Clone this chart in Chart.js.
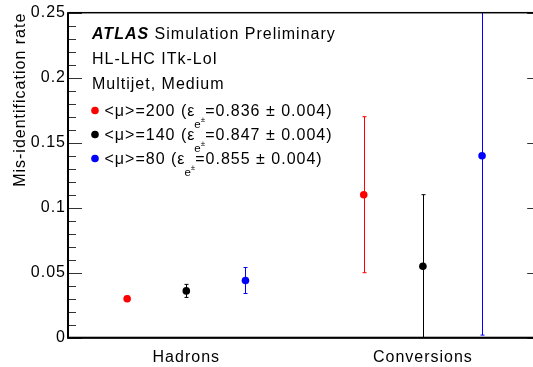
<!DOCTYPE html>
<html lang="en">
<head>
<meta charset="UTF-8">
<title>Mis-identification rate</title>
<script src="https://cdn.jsdelivr.net/npm/chart.js@4/dist/chart.umd.min.js"></script>
<style>
    html, body { margin: 0; padding: 0; overflow: hidden; background: #fff; }
    #wrap { width: 533px; height: 367px; overflow: hidden; }
</style>
</head>
<body>
<div id="wrap"><canvas id="chart" width="545" height="367"></canvas></div>
<script>
const categories = ["Hadrons", "Conversions"];
const pileup = ["200", "140", "80"];
const efficiency = ["0.836", "0.847", "0.855"];
const effError = "0.004";
const colors = ["#ff0000", "#000000", "#0000ff"];
const offsets = [-0.25, 0, 0.25];

// rate per category (Hadrons, Conversions) and its uncertainty
const rate200 = [0.030, 0.110];
const err200 = [0.002, 0.060];
const rate140 = [0.036, 0.055];
const err140 = [0.005, 0.055];
const rate80 = [0.044, 0.140];
const err80 = [0.010, 0.138];

const yTicks = [0, 0.05, 0.1, 0.15, 0.2, 0.25];
const FONT = '"Liberation Sans", Arial, Helvetica, sans-serif';

const series = [
    { values: rate200, errors: err200 },
    { values: rate140, errors: err140 },
    { values: rate80, errors: err80 }
];

const decorations = {
    id: "decorations",
    beforeDraw(chart) {
        // slightly wider text everywhere
        chart.ctx.letterSpacing = "1px";
    },
    beforeDatasetsDraw(chart) {
        // vertical error bars with small caps
        const { ctx, chartArea: a, scales: { x, y } } = chart;
        ctx.save();
        ctx.beginPath();
        ctx.rect(a.left, a.top, a.width, a.height);
        ctx.clip();
        ctx.lineWidth = 1;
        series.forEach((s, i) => {
            ctx.strokeStyle = colors[i];
            s.values.forEach((v, j) => {
                const px = Math.round(x.getPixelForValue(j + 0.5 + offsets[i])) + 0.5;
                const hi = y.getPixelForValue(v + s.errors[j]);
                const lo = y.getPixelForValue(Math.max(0, v - s.errors[j]));
                ctx.beginPath();
                ctx.moveTo(px, lo);
                ctx.lineTo(px, hi);
                ctx.moveTo(px - 2, hi);
                ctx.lineTo(px + 2, hi);
                ctx.moveTo(px - 2, lo);
                ctx.lineTo(px + 2, lo);
                ctx.stroke();
            });
        });
        ctx.restore();
    },
    afterDatasetsDraw(chart) {
        // frame and inward ticks on both vertical axes
        const { ctx, chartArea: a, scales: { y } } = chart;
        ctx.save();
        ctx.strokeStyle = "#333";
        ctx.lineWidth = 1;
        for (let k = 0; k <= 25; k++) {
            const py = Math.round(y.getPixelForValue(k * 0.01)) + 0.5;
            const len = k % 5 === 0 ? 14 : 8;
            ctx.beginPath();
            ctx.moveTo(a.left, py);
            ctx.lineTo(a.left + len, py);
            ctx.moveTo(a.right, py);
            ctx.lineTo(a.right - len, py);
            ctx.stroke();
        }
        ctx.strokeStyle = "#000";
        ctx.lineWidth = 1.5;
        ctx.strokeRect(a.left, a.top, a.width, a.height);
        // heavier left and bottom axis lines
        ctx.lineWidth = 2;
        ctx.beginPath();
        ctx.moveTo(a.left, a.top);
        ctx.lineTo(a.left, a.bottom);
        ctx.lineTo(a.right, a.bottom);
        ctx.stroke();
        ctx.restore();
    },
    afterDraw(chart) {
        const ctx = chart.ctx;
        const x0 = 92;
        ctx.save();
        ctx.fillStyle = "#000";
        ctx.textBaseline = "alphabetic";
        ctx.font = `italic bold 16px ${FONT}`;
        ctx.fillText("ATLAS", x0, 38.8);
        const w = ctx.measureText("ATLAS").width;
        ctx.font = `16px ${FONT}`;
        ctx.fillText(" Simulation Preliminary", x0 + w, 38.8);
        ctx.fillText("HL-LHC ITk-LoI", x0, 63.8);
        ctx.fillText("Multijet, Medium", x0, 88.8);

        const rows = [116.3, 140.3, 164.3];
        rows.forEach((yb, i) => {
            ctx.fillStyle = colors[i];
            ctx.beginPath();
            ctx.arc(95, yb - 5.8, 3.8, 0, Math.PI * 2);
            ctx.fill();
            ctx.fillStyle = "#000";
            let x = 104.5;
            ctx.font = `16px ${FONT}`;
            const head = `<μ>=${pileup[i]} (ε`;
            ctx.fillText(head, x, yb);
            x += ctx.measureText(head).width - 1;
            ctx.letterSpacing = "0px";
            ctx.font = `11.5px ${FONT}`;
            ctx.fillText("e", x, yb + 11.7);
            let sw = ctx.measureText("e").width;
            ctx.font = `8px ${FONT}`;
            ctx.fillText("±", x + sw, yb + 6);
            sw += ctx.measureText("±").width;
            x += sw;
            ctx.letterSpacing = "1px";
            ctx.font = `16px ${FONT}`;
            ctx.fillText(`=${efficiency[i]} ± ${effError})`, x, yb);
        });
        ctx.restore();
    }
};

new Chart("chart", {
    type: "scatter",
    data: {
        datasets: series.map((s, i) => ({
            data: s.values.map((v, j) => ({ x: j + 0.5 + offsets[i], y: v })),
            backgroundColor: colors[i],
            borderWidth: 0,
            pointRadius: 3.8,
            pointHoverRadius: 3.8
        }))
    },
    options: {
        responsive: false,
        animation: false,
        layout: { padding: { top: 12.7, right: 3.4, left: 0, bottom: 0 } },
        plugins: {
            legend: { display: false },
            tooltip: { enabled: false }
        },
        scales: {
            x: {
                type: "linear",
                min: 0,
                max: 2,
                afterBuildTicks: s => { s.ticks = categories.map((c, i) => ({ value: i + 0.5 })); },
                afterFit: s => { s.height = 29.3; },
                grid: { display: false, drawTicks: false },
                border: { display: false },
                ticks: {
                    callback: v => categories[Math.round(v - 0.5)],
                    font: { family: FONT, size: 16 },
                    color: "#000",
                    padding: 10,
                    maxRotation: 0
                }
            },
            y: {
                min: 0,
                max: 0.25,
                afterBuildTicks: s => { s.ticks = yTicks.map(v => ({ value: v })); },
                afterFit: s => { s.width = 68; },
                grid: { display: false, drawTicks: false },
                border: { display: false },
                ticks: {
                    callback: v => String(v),
                    font: { family: FONT, size: 16 },
                    color: "#000",
                    padding: 2
                },
                title: {
                    display: true,
                    text: "Mis-identification rate",
                    align: "end",
                    font: { family: FONT, size: 16 },
                    color: "#000",
                    padding: { top: 11, bottom: 0 }
                }
            }
        }
    },
    plugins: [decorations]
});
</script>
</body>
</html>
